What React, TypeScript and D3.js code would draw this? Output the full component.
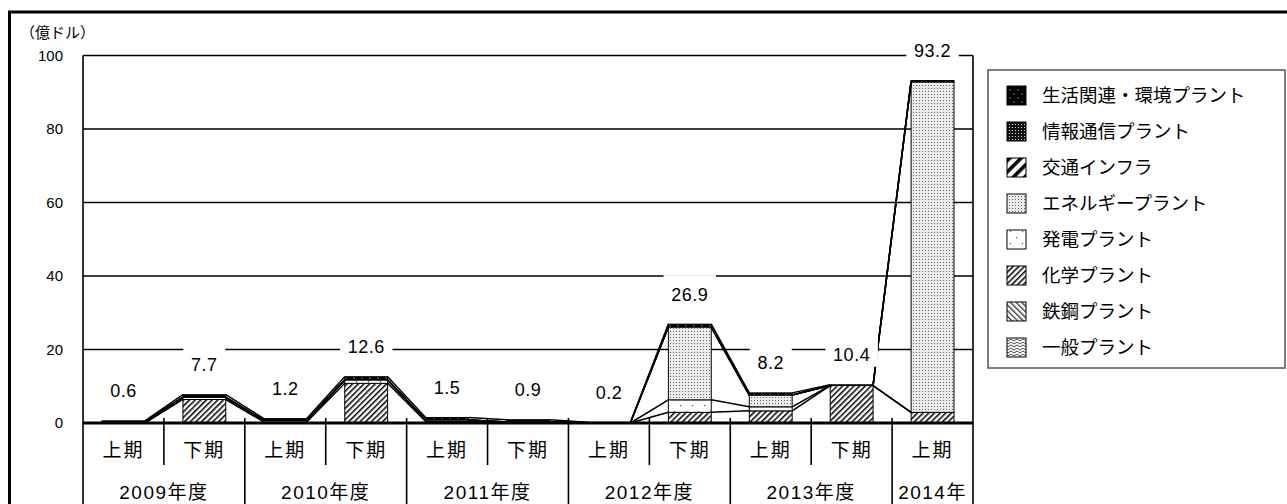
import { scaleBand, scaleLinear, stack } from 'd3';

const periods = [
  '2009上', '2009下', '2010上', '2010下', '2011上', '2011下',
  '2012上', '2012下', '2013上', '2013下', '2014上',
];
const halfLabels = ['上期', '下期', '上期', '下期', '上期', '下期', '上期', '下期', '上期', '下期', '上期'];
const yearLabels = ['2009年度', '2010年度', '2011年度', '2012年度', '2013年度', '2014年'];
const yearSpans = [2, 2, 2, 2, 2, 1];
const yTicks = [0, 20, 40, 60, 80, 100];

// values in 億ドル, stacked bottom -> top
const ippan = [0, 0, 0, 0, 0, 0, 0, 0, 0, 0, 0];
const tekko = [0, 0, 0, 0, 0, 0, 0, 0, 0, 0, 0];
const kagaku = [0, 6.4, 0.3, 10.8, 0.4, 0, 0, 2.9, 3.3, 10.2, 2.9];
const hatsuden = [0.3, 0.6, 0.4, 0.9, 0.4, 0.3, 0, 3.4, 1.1, 0, 0];
const energy = [0, 0, 0, 0, 0, 0, 0, 19.8, 3.2, 0, 89.9];
const kotsu = [0, 0, 0, 0, 0, 0, 0, 0, 0, 0, 0];
const joho = [0, 0, 0, 0, 0, 0, 0, 0, 0, 0, 0];
const seikatsu = [0.3, 0.7, 0.5, 0.9, 0.7, 0.6, 0.2, 0.8, 0.6, 0.2, 0.4];
const totals = ['0.6', '7.7', '1.2', '12.6', '1.5', '0.9', '0.2', '26.9', '8.2', '10.4', '93.2'];

const seriesKeys = ['ippan', 'tekko', 'kagaku', 'hatsuden', 'energy', 'kotsu', 'joho', 'seikatsu'];
const seriesNames: Record<string, string> = {
  ippan: '一般プラント',
  tekko: '鉄鋼プラント',
  kagaku: '化学プラント',
  hatsuden: '発電プラント',
  energy: 'エネルギープラント',
  kotsu: '交通インフラ',
  joho: '情報通信プラント',
  seikatsu: '生活関連・環境プラント',
};
const seriesValues: Record<string, number[]> = {
  ippan, tekko, kagaku, hatsuden, energy, kotsu, joho, seikatsu,
};

const W = 1287;
const H = 504;
const numFont = '"Liberation Sans", "Noto Sans CJK JP", sans-serif';
const jpFont = '"Noto Sans CJK JP", sans-serif';

const App = () => {
  const x = scaleBand<string>()
    .domain(periods)
    .range([83, 973])
    .paddingInner(0.47)
    .paddingOuter(0.235);
  const y = scaleLinear().domain([0, 100]).range([423, 55.5]);
  const bw = x.bandwidth();
  const edge = (k: number) => 83 + k * x.step();

  const rows = periods.map((p, i) => {
    const r: any = { period: p };
    seriesKeys.forEach((k) => (r[k] = seriesValues[k][i]));
    return r;
  });
  const layers = stack<any>().keys(seriesKeys)(rows);

  let acc = 0;
  const yearStarts = yearSpans.map((s) => {
    const st = acc;
    acc += s;
    return st;
  });

  const legendKeys = [...seriesKeys].reverse();

  return (
    <svg
      width={W}
      height={H}
      style={{ position: 'absolute', left: 0, top: 0, display: 'block', background: '#fff' }}
    >
      <defs>
        <pattern id="p-seikatsu" width="8" height="8" patternUnits="userSpaceOnUse">
          <rect width="8" height="8" fill="#000" />
          <rect x="1.5" y="1.5" width="1" height="1" fill="#fff" />
          <rect x="5.5" y="5.5" width="1" height="1" fill="#fff" />
        </pattern>
        <pattern id="p-joho" width="3" height="3" patternUnits="userSpaceOnUse">
          <rect width="3" height="3" fill="#111" />
          <rect x="1" y="1" width="1" height="1" fill="#ddd" />
        </pattern>
        <pattern id="p-kotsu" width="8" height="8" patternUnits="userSpaceOnUse" patternTransform="rotate(45)">
          <rect width="8" height="8" fill="#fff" />
          <rect width="3.6" height="8" fill="#000" />
        </pattern>
        <pattern id="p-energy" width="3" height="3" patternUnits="userSpaceOnUse">
          <rect width="3" height="3" fill="#ececec" />
          <rect x="1" y="1" width="1" height="1" fill="#666" />
        </pattern>
        <pattern id="p-hatsuden" width="12" height="12" patternUnits="userSpaceOnUse">
          <rect width="12" height="12" fill="#fff" />
          <rect x="2" y="3" width="1.2" height="1.2" fill="#555" />
          <rect x="8" y="9" width="1.2" height="1.2" fill="#555" />
        </pattern>
        <pattern id="p-kagaku" width="4" height="4" patternUnits="userSpaceOnUse" patternTransform="rotate(45)">
          <rect width="4" height="4" fill="#fff" />
          <rect width="1.5" height="4" fill="#000" />
        </pattern>
        <pattern id="p-tekko" width="4" height="4" patternUnits="userSpaceOnUse" patternTransform="rotate(-45)">
          <rect width="4" height="4" fill="#fff" />
          <rect width="1.3" height="4" fill="#333" />
        </pattern>
        <pattern id="p-ippan" width="6" height="6" patternUnits="userSpaceOnUse">
          <rect width="6" height="6" fill="#fff" />
          <path d="M0,2 L3,0 L6,2 M0,5 L3,3 L6,5" stroke="#333" strokeWidth="0.9" fill="none" />
        </pattern>
      </defs>

      {/* outer frame */}
      <rect x={9.5} y={12} width={1300} height={520} fill="none" stroke="#000" strokeWidth={3} />

      {/* unit */}
      <text x={20} y={38} fontSize={15} fontFamily={jpFont}>
        （億ドル）
      </text>

      {/* gridlines + y labels */}
      {yTicks.map((t) => (
        <g key={t}>
          {t > 0 && (
            <line x1={83} x2={973} y1={y(t)} y2={y(t)} stroke="#000" strokeWidth={1.6} />
          )}
          <text
            x={63}
            y={y(t)}
            dy="0.36em"
            textAnchor="end"
            fontSize={15}
            fontFamily={numFont}
          >
            {t}
          </text>
        </g>
      ))}

      {/* axis lines */}
      <line x1={83} x2={83} y1={y(100)} y2={H} stroke="#000" strokeWidth={1.6} />
      <line x1={973} x2={973} y1={y(100)} y2={H} stroke="#000" strokeWidth={1.6} />

      {/* bars */}
      {layers.map((layer) => (
        <g key={layer.key} fill={`url(#p-${layer.key})`} stroke="#000" strokeWidth={1}>
          {layer.map((d, i) =>
            d[1] - d[0] > 0 ? (
              <rect
                key={i}
                x={x(periods[i])!}
                y={y(d[1])}
                width={bw}
                height={y(d[0]) - y(d[1])}
              />
            ) : null,
          )}
        </g>
      ))}

      {/* series lines */}
      {layers.map((layer) => (
        <g key={'sl' + layer.key} stroke="#000" strokeWidth={1.5}>
          {layer.slice(0, -1).map((d, i) => (
            <line
              key={i}
              x1={x(periods[i])! + bw}
              y1={y(d[1])}
              x2={x(periods[i + 1])!}
              y2={y(layer[i + 1][1])}
            />
          ))}
        </g>
      ))}

      {/* zero line */}
      <line x1={83} x2={973} y1={y(0)} y2={y(0)} stroke="#000" strokeWidth={3} />

      {/* total labels */}
      {totals.map((t, i) => {
        const top = y(layers[layers.length - 1][i][1]);
        const cx = x(periods[i])! + bw / 2;
        const cy = top - 30;
        const w = (t.length - 1) * 10.5 + 5 + 16;
        return (
          <g key={'lb' + i}>
            <rect x={cx - w / 2} y={cy - 19} width={w} height={31} fill="#fff" />
            <text
              x={cx}
              y={cy}
              dy="0.36em"
              textAnchor="middle"
              fontSize={18}
              letterSpacing={0.5}
              fontFamily={numFont}
            >
              {t}
            </text>
          </g>
        );
      })}

      {/* category axis */}
      {periods.map((p, i) => (
        <text
          key={'h' + p}
          x={x(p)! + bw / 2}
          y={450}
          dy="0.36em"
          textAnchor="middle"
          fontSize={19}
          letterSpacing={2}
          fontFamily={jpFont}
        >
          {halfLabels[i]}
        </text>
      ))}
      {periods.map((p, i) =>
        i > 0 && i % 2 === 1 ? (
          <line key={'st' + i} x1={edge(i)} x2={edge(i)} y1={418} y2={465} stroke="#000" strokeWidth={1.6} />
        ) : null,
      )}
      {yearLabels.map((yl, j) => {
        const s = yearStarts[j];
        const e = s + yearSpans[j];
        return (
          <g key={yl}>
            {s > 0 && (
              <line x1={edge(s)} x2={edge(s)} y1={418} y2={H} stroke="#000" strokeWidth={1.6} />
            )}
            <text
              x={(edge(s) + edge(e)) / 2}
              y={492}
              dy="0.36em"
              textAnchor="middle"
              fontSize={19}
              letterSpacing={1.5}
              fontFamily={numFont}
            >
              {yl}
            </text>
          </g>
        );
      })}

      {/* legend */}
      <rect x={988} y={70} width={297} height={298} fill="#fff" stroke="#555" strokeWidth={1.5} />
      {legendKeys.map((k, i) => {
        const cy = 95 + i * 36;
        return (
          <g key={'lg' + k}>
            <rect
              x={1007}
              y={cy - 9}
              width={19}
              height={19}
              fill={`url(#p-${k})`}
              stroke="#000"
              strokeWidth={1}
            />
            <text x={1042} y={cy} dy="0.36em" fontSize={18.5} fontFamily={jpFont}>
              {seriesNames[k]}
            </text>
          </g>
        );
      })}
    </svg>
  );
};

export default App;
